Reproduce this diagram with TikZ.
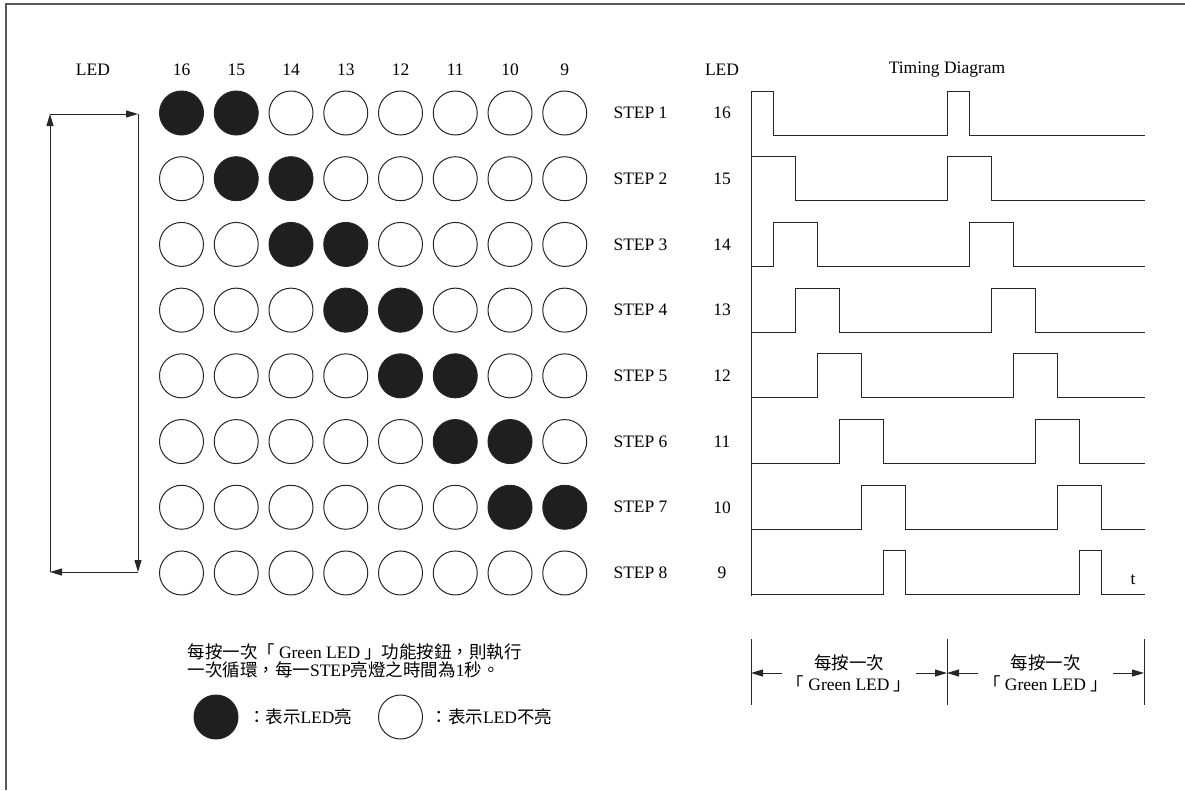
\documentclass[tikz,border=0pt]{standalone}
\usepackage{fontspec}
\setmainfont{Liberation Serif}
\newfontfamily\cjk{Noto Sans CJK TC}
\usetikzlibrary{arrows.meta, positioning}

\begin{document}
\begin{tikzpicture}[
    x=1pt, y=-1pt,
    font=\fontsize{17.5}{18.5}\selectfont,
    % Style definitions
    lamp/.style={circle, minimum size=44pt, inner sep=0pt, draw=black!85, line width=1pt},
    lampon/.style={lamp, fill=black!88},
    wave/.style={draw=black!85, line width=1pt},
    tick/.style={draw=black!85, line width=1pt},
    frame/.style={draw=black!65, line width=1.8pt},
    arrow/.style={-{Triangle[length=12pt, width=7pt]}, draw=black!85, line width=1pt},
]
\useasboundingbox (0,0) rectangle (1185,790);
\draw[frame] (6,790) -- (6,4) -- (1185,4);

% LED pattern
\node (hled) at (93,70) {LED};
\foreach \n [count=\c] in {16,15,...,9}
  \node (col\c) at ({181.5+54.75*(\c-1)},70) {\n};
\foreach \r in {1,...,8} {
  \foreach \c in {1,...,8} {
    \pgfmathtruncatemacro\on{and(or(\c==\r,\c==\r+1),\r<8)}
    \ifnum\on=1 \def\lampfill{black!88}\else\def\lampfill{white}\fi
    \node[lamp, fill=\lampfill] (l\r-\c) at ({181.5+54.75*(\c-1)},{113+65.71*(\r-1)}) {};
  }
  \node (step\r) at (640.5,{113+65.71*(\r-1)}) {STEP \r};
}

% cycle arrows
\coordinate (ltop) at (50,114);
\coordinate (rtop) at (138,114);
\coordinate (rbot) at (138,572);
\coordinate (lbot) at (50,572);
\draw[arrow] (lbot) -- (ltop);
\draw[arrow] (ltop) -- (rtop);
\draw[arrow] (rtop) -- (rbot);
\draw[arrow] (rbot) -- (lbot);

% Timing diagram
\node (tled) at (722,70) {LED};
\node (title) at (947,70) {Timing Diagram};
\foreach \n [count=\r] in {16,15,...,9}
  \node (num\r) at (722,{113+65.71*(\r-1)}) {\n};
\coordinate (axtop) at (751,91);
\coordinate (axbot) at (751,596);
\draw[wave] (axtop) -- (axbot);
\foreach \r/\a/\b in {1/0/1,2/0/2,3/1/3,4/2/4,5/3/5,6/4/6,7/5/7,8/6/7} {
  \pgfmathsetmacro\yh{91+65.71*(\r-1)}
  \pgfmathsetmacro\yl{\yh+44}
  \draw[wave] (751,\yl) -- ({751+22*\a},\yl) -- ({751+22*\a},\yh) -- ({751+22*\b},\yh)
    -- ({751+22*\b},\yl) -- ({947+22*\a},\yl) -- ({947+22*\a},\yh) -- ({947+22*\b},\yh)
    -- ({947+22*\b},\yl) -- (1145,\yl);
}
\node (tlabel) at (1133,580) {t};

% one press per cycle
\coordinate (k1) at (751,639);
\coordinate (k2) at (947,639);
\coordinate (k3) at (1144,639);
\draw[tick] (k1) -- ++(0,66);
\draw[tick] (k2) -- ++(0,66);
\draw[tick] (k3) -- ++(0,66);
\node[align=center, inner xsep=5pt, font=\fontsize{17.5}{21}\selectfont] (press1) at (849,673)
  {{\cjk 每按一次}\\{\cjk 「}\hspace{4pt}Green LED\hspace{4pt}{\cjk 」}};
\node[align=center, inner xsep=5pt, font=\fontsize{17.5}{21}\selectfont] (press2) at (1045.5,673)
  {{\cjk 每按一次}\\{\cjk 「}\hspace{4pt}Green LED\hspace{4pt}{\cjk 」}};
\draw[arrow] (press1.west) -- (press1.west -| k1);
\draw[arrow] (press1.east) -- (press1.east -| k2);
\draw[arrow] (press2.west) -- (press2.west -| k2);
\draw[arrow] (press2.east) -- (press2.east -| k3);

% Legend
\node[align=left, anchor=west] (note) at (184,661)
  {{\cjk 每按一次「}\hspace{4pt}Green LED\hspace{4pt}{\cjk 」功能按鈕，則執行}\\{\cjk 一次循環，每一}STEP{\cjk 亮燈之時間為}1{\cjk 秒。}};
\node[lampon] (keyon) at (216,717) {};
\node[right=6pt of keyon] (keyontxt) {{\cjk ：表示}LED{\cjk 亮}};
\node[lamp] (keyoff) at (400.5,717) {};
\node[right=4pt of keyoff] (keyofftxt) {{\cjk ：表示}LED{\cjk 不亮}};

\end{tikzpicture}
\end{document}
